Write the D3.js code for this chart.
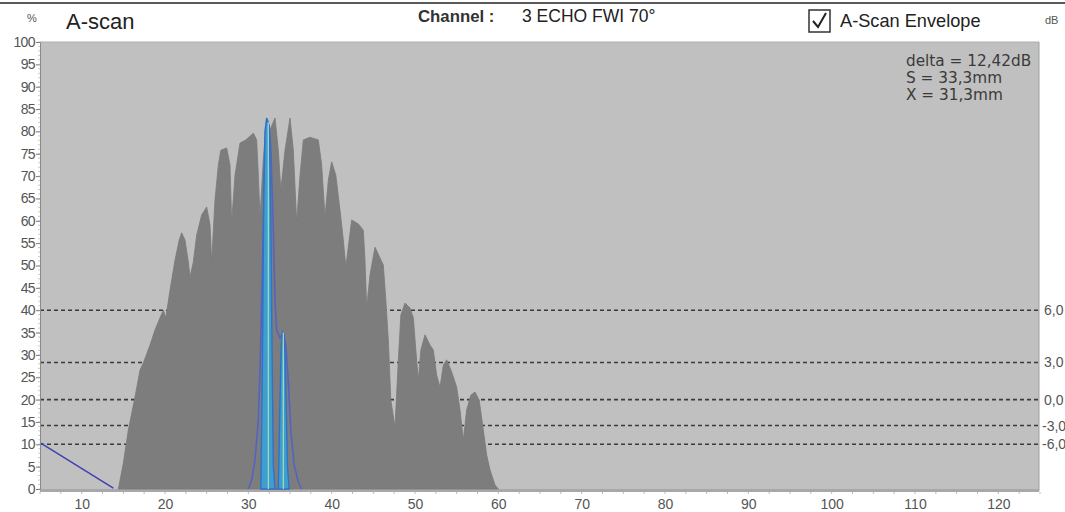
<!DOCTYPE html>
<html><head><meta charset="utf-8">
<script src="https://cdn.jsdelivr.net/npm/d3@7"></script>
<style>body{margin:0;background:#fff;overflow:hidden;} svg{display:block;}</style>
</head><body><svg id="c" width="1065" height="512"></svg>
<script>
// ---- data ----
const xDomain = [5, 125];
const yDomain = [0, 100];
const yTickValues = [0,5,10,15,20,25,30,35,40,45,50,55,60,65,70,75,80,85,90,95,100];
const xTickValues = [10,20,30,40,50,60,70,80,90,100,110,120];

const envX = [14.4,15.0,15.6,16.4,17.0,17.4,18.2,18.8,19.4,19.8,
  20.1,20.6,21.2,21.7,22.0,22.4,22.8,23.0,23.4,23.8,
  24.4,25.0,25.4,25.6,26.0,26.4,26.7,27.4,27.8,28.0,
  28.4,29.0,29.7,30.6,31.0,31.2,31.4,31.8,32.1,32.6,
  33.2,33.6,33.9,34.4,35.0,35.4,35.8,36.2,36.6,37.4,
  38.4,38.8,39.2,39.6,40.0,40.5,41.0,41.4,41.7,42.1,
  42.4,43.2,43.8,44.0,44.2,44.6,45.2,45.8,46.2,46.5,
  46.8,47.1,47.6,48.0,48.3,48.8,49.4,49.8,50.1,50.4,
  50.7,51.2,51.8,52.2,52.6,53.0,53.4,53.8,54.4,55.0,
  55.4,55.8,56.2,56.7,57.2,57.7,58.2,58.6,59.0,59.6,60.0];
const envY = [0,5.8,13.2,20.6,26.6,28.2,32.2,35.6,38.3,40.0,
  38.3,44.5,51.2,55.7,57.3,55.7,50.8,47.4,50.8,56.8,
  61.3,63.1,59.1,50.8,64.7,72.5,75.8,76.3,72.5,59.7,
  70.2,77.4,78.1,79.6,78.1,70.2,60.9,73.6,81.4,80.3,
  83.0,75.8,66.9,75.8,83.0,75.8,59.7,70.2,78.1,78.7,
  78.1,72.5,60.9,69.1,73.2,70.2,62.4,55.7,49.7,55.7,
  60.2,59.3,57.9,51.2,40.7,47.9,54.1,51.7,50.1,42.3,
  33.3,19.9,13.9,28.9,38.9,41.6,40.5,38.3,31.1,24.4,
  31.1,34.5,32.2,31.1,25.5,22.8,27.7,28.9,26.2,22.8,
  17.7,11.0,17.7,21.0,21.7,19.9,13.2,7.6,4.3,0.9,0];

// A-scan signal (blue pulses)
const sigX = [31.5,31.7,31.85,32.0,32.2,32.4,32.55,32.7,32.85,33.0,33.2,33.6,33.8,33.95,34.1,34.25,34.4,34.55,34.7,34.9];
const sigY = [0,30,65,80,83,82,78,60,30,5,0,0,20,32,35,34.5,30,18,5,0];
// outer bell outline around the signal
const bellX = [30.0,30.4,30.8,31.2,31.4,31.6,31.8,32.0,32.2,32.5,32.7,33.0,33.2,33.4,33.8,34.2,34.5,34.8,35.1,35.5,36.0,36.4];
const bellY = [0,2,6.5,15.4,26.6,42,58,76,82,81.4,76,58,42,35.5,33.8,35,32,24,13,5.4,1.5,0];
// gate markers (vertical lines)
const gateX = [32.4, 34.2];
const gateTop = [82, 35];
// DAC line
const dacX = [5, 13.8];
const dacY = [10.4, 0.2];
// dB reference levels
const dbPct = [40, 28.3, 20, 14.2, 10];
const dbLabels = ["6,0","3,0","0,0","-3,0","-6,0"];
const infoLines = ["delta = 12,42dB","S = 33,3mm","X = 31,3mm"];

// ---- drawing ----
const svg = d3.select("#c");
const L = 40, R = 1039, T = 42, B = 489;
const x = d3.scaleLinear(xDomain, [L, L + (R - L + 1)]);
const y = d3.scaleLinear(yDomain, [B, T]);
const font = "'Liberation Sans', Arial, sans-serif";
const tfont = "'DejaVu Sans', Tahoma, sans-serif";

// top border
svg.append("rect").attr("x",0).attr("y",2).attr("width",1065).attr("height",2).attr("fill","#5a5a5a");

// header texts
svg.append("text").attr("x",27).attr("y",22).attr("font-family",font).attr("font-size",11).attr("fill","#555").text("%");
svg.append("text").attr("x",66).attr("y",29).attr("font-family",font).attr("font-size",22).attr("fill","#222").text("A-scan");
svg.append("text").attr("x",418).attr("y",22).attr("font-family",font).attr("font-size",16.8).attr("font-weight","bold").attr("fill","#333").text("Channel :");
svg.append("text").attr("x",522).attr("y",22).attr("font-family",font).attr("font-size",17.5).attr("fill","#222").text("3 ECHO FWI 70°");
svg.append("rect").attr("x",809).attr("y",10).attr("width",21).attr("height",22).attr("fill","#fff").attr("stroke","#333").attr("stroke-width",1.5);
svg.append("path").attr("d","M813 21 L818 27 L826 13").attr("fill","none").attr("stroke","#222").attr("stroke-width",2);
svg.append("text").attr("x",840).attr("y",27).attr("font-family",font).attr("font-size",18.2).attr("fill","#222").text("A-Scan Envelope");
svg.append("text").attr("x",1045).attr("y",24).attr("font-family",font).attr("font-size",11).attr("fill","#555").text("dB");

// plot background
svg.append("rect").attr("x",L).attr("y",T).attr("width",R-L).attr("height",B-T).attr("fill","#c0c0c0");
svg.append("line").attr("x1",L).attr("x2",R).attr("y1",T).attr("y2",T).attr("stroke","#b0b0b0");
svg.append("line").attr("x1",R).attr("x2",R).attr("y1",T).attr("y2",B+2).attr("stroke","#a0a0a0");
svg.append("rect").attr("x",L).attr("y",B).attr("width",R-L).attr("height",3).attr("fill","#a8a8a8");

// dB dashed lines
svg.append("g").selectAll("line").data(dbPct).join("line")
  .attr("x1",L).attr("x2",R).attr("y1",d=>y(d)).attr("y2",d=>y(d))
  .attr("stroke","#3a3a3a").attr("stroke-width",1.6).attr("stroke-dasharray","4,3");
svg.append("g").selectAll("text").data(dbPct).join("text")
  .attr("x",(d,i)=> dbLabels[i].startsWith("-") ? 1042 : 1044)
  .attr("y",d=>y(d)+5).attr("font-family",font).attr("font-size",14).attr("fill","#555")
  .text((d,i)=>dbLabels[i]);

// envelope
const env = envX.map((v,i)=>[v, envY[i]]);
svg.append("path").datum(env)
  .attr("d", d3.area().x(d=>x(d[0])).y0(y(0)).y1(d=>y(d[1])))
  .attr("fill","#7d7d7d").attr("stroke","#7a7a7a").attr("stroke-width",0.8);

// signal bell outline
const bell = bellX.map((v,i)=>[v, bellY[i]]);
svg.append("path").datum(bell)
  .attr("d", d3.line().x(d=>x(d[0])).y(d=>y(d[1])))
  .attr("fill","none").attr("stroke","#5563c0").attr("stroke-width",1.6);

// signal pulses
const sig = sigX.map((v,i)=>[v, sigY[i]]);
svg.append("path").datum(sig)
  .attr("d", d3.area().x(d=>x(d[0])).y0(y(0)).y1(d=>y(d[1])))
  .attr("fill","#35a3dc").attr("fill-opacity",0.85).attr("stroke","#2f72c8").attr("stroke-width",1.4);

// gate lines
svg.append("g").selectAll("line").data(gateX).join("line")
  .attr("x1",d=>x(d)).attr("x2",d=>x(d)).attr("y1",y(0)).attr("y2",(d,i)=>y(gateTop[i]))
  .attr("stroke","#9fe0b8").attr("stroke-width",1.2);

// DAC line
svg.append("line").attr("x1",x(dacX[0])).attr("y1",y(dacY[0])).attr("x2",x(dacX[1])).attr("y2",y(dacY[1]))
  .attr("stroke","#4040b4").attr("stroke-width",1.5);

// info text
svg.append("g").selectAll("text").data(infoLines).join("text")
  .attr("x",906).attr("y",(d,i)=>66+i*17).attr("font-family",tfont).attr("font-size",15.3).attr("fill","#3a3a3a")
  .text(d=>d);

// y axis
const yAxis = d3.axisLeft(y).tickValues(yTickValues).tickSize(4).tickPadding(1).tickFormat(d3.format("d"));
const gy = svg.append("g").attr("transform",`translate(${L},0)`).call(yAxis);
gy.select(".domain").attr("stroke","#8a8a8a");
gy.selectAll(".tick line").attr("stroke","#777");
gy.selectAll(".tick text").attr("font-family",font).attr("font-size",14).attr("letter-spacing",-0.6).attr("fill","#555");
const yMinor = d3.range(0,101,1);
svg.append("g").selectAll("line").data(yMinor).join("line")
  .attr("x1",L-2).attr("x2",L).attr("y1",d=>y(d)).attr("y2",d=>y(d)).attr("stroke","#aaa").attr("stroke-width",0.6);

// x axis
const xAxis = d3.axisBottom(x).tickValues(xTickValues).tickSize(0).tickPadding(8).tickFormat(d3.format("d"));
const gx = svg.append("g").attr("transform",`translate(0,${B+2})`).call(xAxis);
gx.select(".domain").remove();
gx.selectAll(".tick text").attr("font-family",font).attr("font-size",14).attr("fill","#555");
const xMinor = d3.range(5,126,2.5);
svg.append("g").selectAll("line").data(xMinor).join("line")
  .attr("x1",d=>x(d)).attr("x2",d=>x(d)).attr("y1",B+3).attr("y2",B+5).attr("stroke","#aaa").attr("stroke-width",0.8);
</script></body></html>
